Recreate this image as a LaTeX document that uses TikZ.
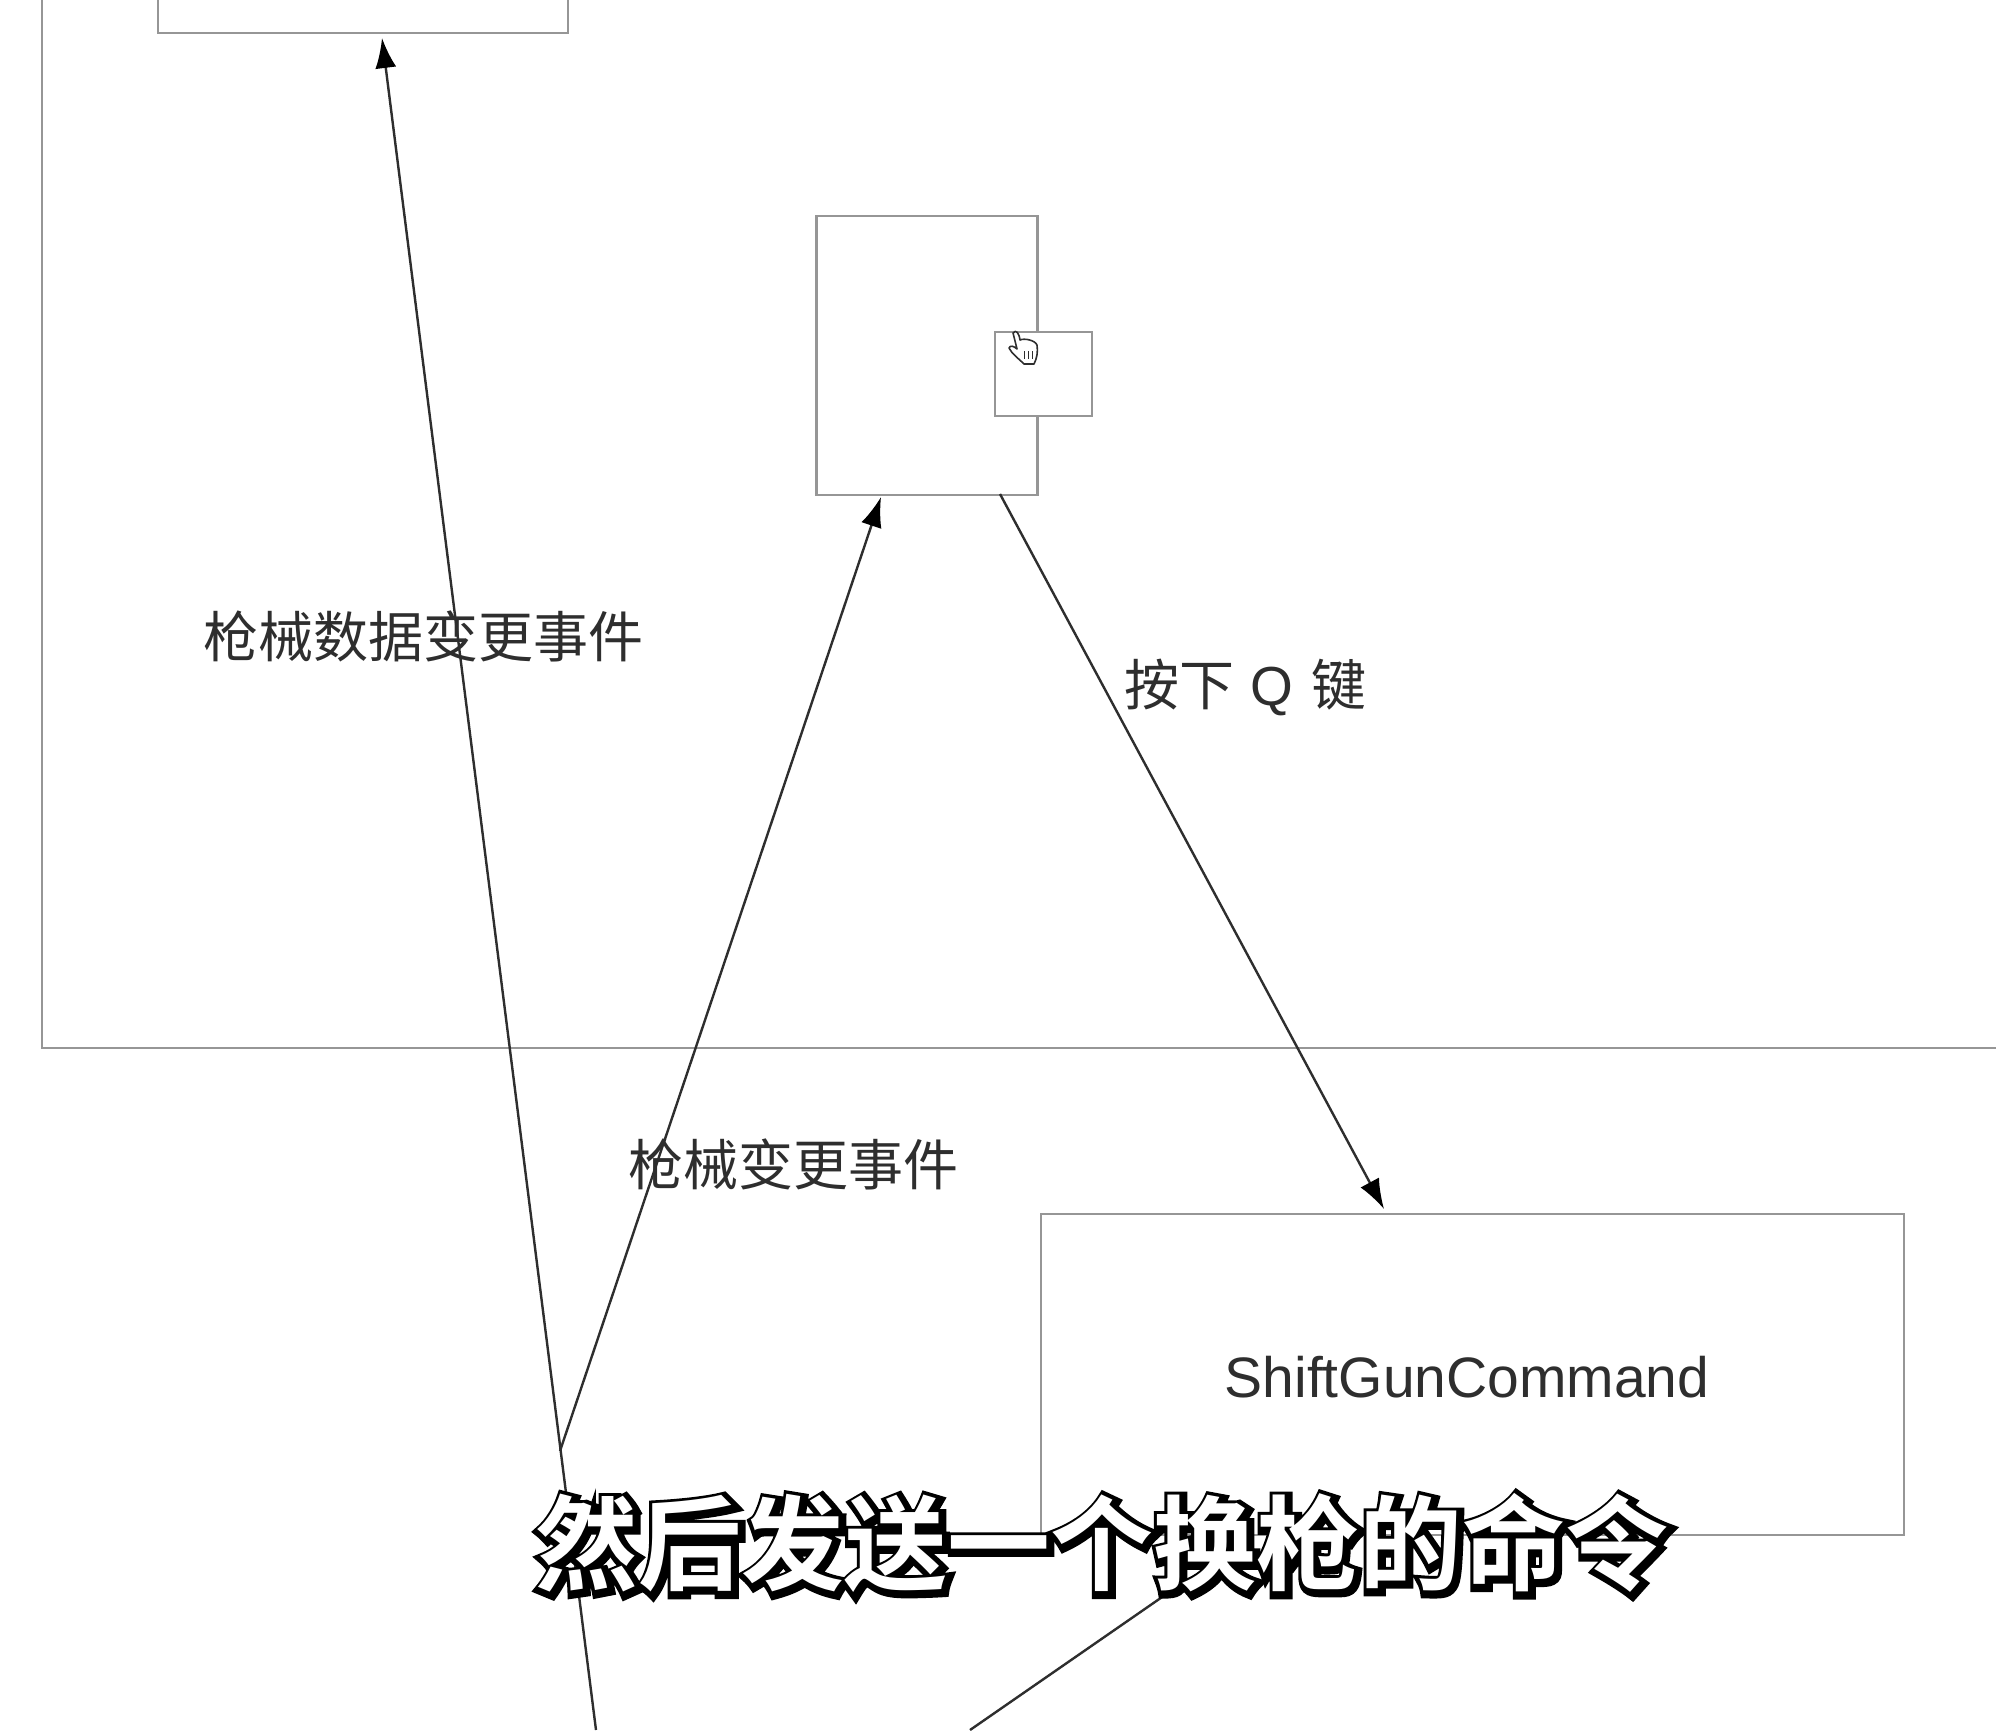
\documentclass[tikz,border=0pt]{standalone}
\usepackage{fontspec}
\setmainfont{Liberation Sans}
\newfontfamily\cjkreg{Noto Sans CJK SC}
\newfontfamily\cjkbold{Noto Sans CJK SC Bold}
\usetikzlibrary{arrows.meta}
\definecolor{boxgray}{HTML}{969696}
\definecolor{inkdark}{HTML}{2E2E2E}
\newcommand{\outlined}[1]{\rlap{\special{pdf:code q 2 Tr 5.5 w 0 G 0 g}\kern1pt\raisebox{-1pt}{#1}\special{pdf:code Q}}#1}
\tikzset{
  x=0.5pt,y=-0.5pt,
  boxnode/.style={draw=boxgray,line width=1.4pt,fill=white,inner sep=0pt,outer sep=0pt,rectangle},
  conn/.style={draw=inkdark,line width=1.2pt},
  arrowconn/.style={conn,-{Latex[length=15pt,width=10.5pt,black]}},
  lbl/.style={text=inkdark,inner sep=0pt,font=\cjkreg\fontsize{27.5}{30}\selectfont},
  captiontext/.style={text=white,inner sep=0pt,font=\cjkbold\fontsize{51.5}{60}\selectfont},
}
\begin{document}
\begin{tikzpicture}
\useasboundingbox (0,0) rectangle (1996,1730);
\clip (0,0) rectangle (1996,1730);
\fill[white] (0,0) rectangle (1996,1730);
% boxes
\node[boxnode,minimum width=1050pt,minimum height=600pt,anchor=south west] (outer) at (42,1048) {};
\node[boxnode,minimum width=205pt,minimum height=100pt,anchor=south west] (topbox) at (158,33) {};
\node[boxnode,minimum width=110.5pt,minimum height=139.5pt,anchor=north west] (player) at (816.5,216) {};
\node[boxnode,minimum width=48.5pt,minimum height=42pt,anchor=north west] (button) at (995,332) {};
\node[boxnode,minimum width=431.5pt,minimum height=160.5pt,anchor=north west] (cmd) at (1041,1214) {};
\node[text=inkdark,inner sep=0pt,font=\fontsize{28.5}{32}\selectfont] (cmdlabel) at (1467,1377) {ShiftGunCommand};
% labels
\node[lbl] (l1) at (423,636) {枪械数据变更事件};
\node[lbl] (l2) at (793,1164) {枪械变更事件};
\node[lbl,anchor=west] (l3) at (1124,687) {按下\hspace{8pt}{\rmfamily Q}\hspace{9pt}键};
% connector ends
\coordinate (c1) at (596,1730);
\coordinate (c1end) at (382,38);
\coordinate (c2) at (560,1451);
\coordinate (c2end) at (881,497);
\coordinate (c3) at (1000,494);
\coordinate (c3end) at (1384,1209);
\coordinate (c4) at (1165,1595);
\coordinate (c4end) at (970,1730);
\draw[arrowconn] (c1) -- (c1end);
\draw[arrowconn] (c2) -- (c2end);
\draw[arrowconn] (c3) -- (c3end);
\draw[conn] (c4) -- (c4end);
% hand cursor
\draw[draw=inkdark,fill=white,line width=0.8pt,line join=round]
  (1013,333) .. controls (1016,329) and (1019,333) .. (1020,340)
  .. controls (1024,338) and (1035,340) .. (1037,345)
  .. controls (1038,352) and (1037,358) .. (1034,364)
  -- (1024,364) .. controls (1018,358) and (1012,354) .. (1009,348)
  .. controls (1010,345) and (1014,346) .. (1017,349)
  -- cycle;
\draw[inkdark,line width=0.5pt] (1024,351) -- (1024,359) (1028,351) -- (1028,359) (1032,351) -- (1032,359);
% caption
\node[captiontext] (caption) at (1102,1544) {\outlined{然后发送一个换枪的命令}};
\end{tikzpicture}
\end{document}
